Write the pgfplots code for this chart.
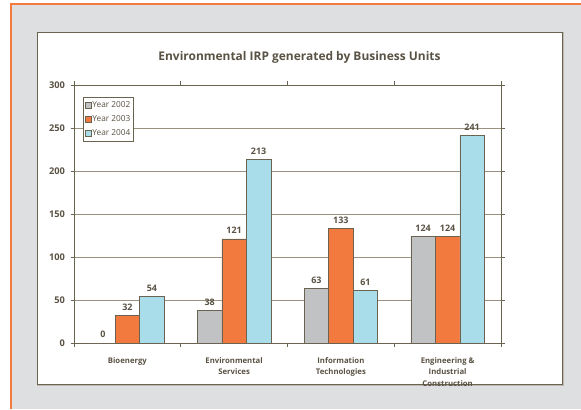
\documentclass[border=0pt]{standalone}
\usepackage{pgfplots}
\pgfplotsset{compat=1.18}
\usepackage{fontspec}
\setmainfont{Open Sans}
\definecolor{bgc}{HTML}{DEDFE1}
\definecolor{orng}{HTML}{F47B40}
\definecolor{txt}{HTML}{5A5244}
\definecolor{axc}{HTML}{6B6352}
\definecolor{gridc}{HTML}{9A927F}
\definecolor{cA}{HTML}{C1C2C4}
\definecolor{cB}{HTML}{F27A3F}
\definecolor{cC}{HTML}{A9DDEA}
\begin{document}
\begin{tikzpicture}[x=1bp,y=1bp]
\useasboundingbox (0,0) rectangle (581,409);
\fill[white] (0,0) rectangle (581,409);
\fill[bgc] (11,0) rectangle (581,405);
\fill[orng] (9.5,0) rectangle (11.5,405.5);
\fill[orng] (9.5,403.5) rectangle (581,405.5);
\fill[white] (37,25) rectangle (562,377);
\draw[axc!45, line width=1.2bp] (563,377)--(563,24)--(37,24);
\draw[axc, line width=0.8bp] (37,25) rectangle (562,377);
\node[font=\fontsize{12}{14}\selectfont\bfseries, text=txt] at (299.5,352) {Environmental IRP generated by Business Units};
\begin{axis}[
  at={(74bp,66bp)}, anchor=south west, scale only axis,
  width=427bp, height=258bp,
  xmin=-0.5, xmax=3.5, ymin=0, ymax=300,
  ytick={0,50,...,300},
  ybar=0pt, bar width=24.5bp,
  ymajorgrids, grid style={gridc, line width=0.6bp},
  axis line style={axc, line width=0.9bp},
  tick style={axc, line width=0.8bp},
  tick align=outside, major tick length=3.5bp,
  xtick={-0.5,0.5,1.5,2.5,3.5}, xticklabels={},
  extra x ticks={0,1,2,3},
  extra x tick labels={Bioenergy,{Environmental\\Services},{Information\\Technologies},{Engineering \&\\Industrial\\Construction}},
  extra x tick style={major tick length=0pt, xticklabel style={align=center, anchor=north, yshift=-11bp, font=\fontsize{7.8}{11.5}\selectfont\bfseries, text=txt}},
  yticklabel style={font=\fontsize{9.3}{10}\selectfont\bfseries, text=txt, xshift=-2bp},
  /pgf/number format/assume math mode=true,
  every axis plot/.append style={draw=axc, line width=0.7bp},
  nodes near coords,
  every node near coord/.append style={font=\fontsize{9}{10}\selectfont\bfseries, text=txt, yshift=1.5bp},
  legend image code/.code={\draw[#1] (0bp,-3bp) rectangle (6bp,3bp);},
  legend style={at={(0.021,0.953)}, anchor=north west, draw=axc, line width=0.6bp, fill=white,
    font=\fontsize{8.3}{9}\selectfont, text=txt, row sep=5.5bp, inner xsep=1.5bp, inner ysep=3.5bp,
    nodes={inner xsep=1bp, inner ysep=0.5bp}},
  legend cell align=left,
]
\addplot[fill=cA] coordinates {(0,0) (1,38) (2,63) (3,124)};
\addplot[fill=cB] coordinates {(0,32) (1,121) (2,133) (3,124)};
\addplot[fill=cC] coordinates {(0,54) (1,213) (2,61) (3,241)};
\legend{Year 2002,Year 2003,Year 2004}
\end{axis}
\end{tikzpicture}
\end{document}
